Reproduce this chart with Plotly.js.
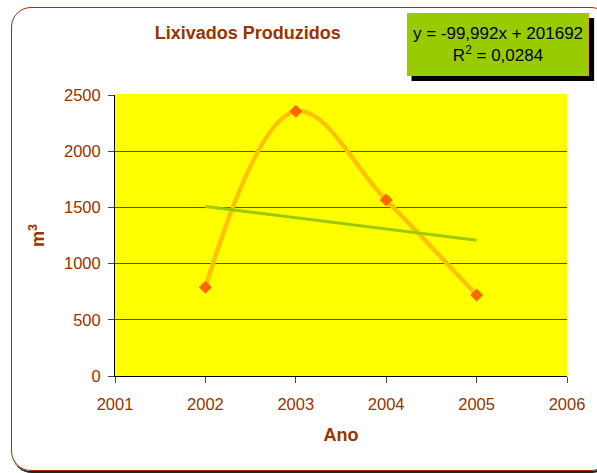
<!DOCTYPE html>
<html>
<head>
<meta charset="utf-8">
<script src="https://cdn.plot.ly/plotly-3.0.1.min.js"></script>
<style>
  html, body { margin: 0; padding: 0; background: #ffffff; }
  #wrap { position: relative; width: 597px; height: 473px; overflow: hidden; }
  #chart { position: absolute; left: 0; top: 0; width: 597px; height: 473px; }
  #frame { position: absolute; left: 11px; top: 7px; width: 600px; height: 464px;
           border: 1.5px solid #993300; border-radius: 20px; box-sizing: border-box;
           pointer-events: none; box-shadow: 1px 2px 0 #222; }
</style>
</head>
<body>
<div id="wrap">
  <div id="frame"></div>
  <div id="chart"></div>
</div>
<script>
// Data
const years = [2002, 2003, 2004, 2005];
const volumes = [790, 2355, 1565, 720];
const xTickVals = [2001, 2002, 2003, 2004, 2005, 2006];
const yTickVals = [0, 500, 1000, 1500, 2000, 2500];
const chartTitle = 'Lixivados Produzidos';
const xTitle = 'Ano';
const yTitle = 'm<sup>3</sup>';
const equationText = 'y = -99,992x + 201692<br>R<sup>2</sup> = 0,0284';

// Linear least-squares trend computed from the data
const n = years.length;
const mx = years.reduce((a, b) => a + b, 0) / n;
const my = volumes.reduce((a, b) => a + b, 0) / n;
let sxy = 0, sxx = 0;
for (let i = 0; i < n; i++) { sxy += (years[i] - mx) * (volumes[i] - my); sxx += (years[i] - mx) ** 2; }
const slope = sxy / sxx;
const intercept = my - slope * mx;
const trendX = [years[0], years[n - 1]];
const trendY = trendX.map(x => slope * x + intercept);

const font = 'Liberation Sans, Arial, sans-serif';
const brown = '#993300';

const traces = [
  {
    x: years, y: volumes, type: 'scatter', mode: 'lines',
    line: { color: '#FFC000', width: 4.5, shape: 'spline', smoothing: 1.1 },
    hoverinfo: 'skip', showlegend: false
  },
  {
    x: trendX, y: trendY, type: 'scatter', mode: 'lines',
    line: { color: '#99CC00', width: 3 },
    showlegend: false
  },
  {
    x: years, y: volumes, type: 'scatter', mode: 'markers',
    marker: { symbol: 'diamond', color: '#FF6600', size: 10 },
    showlegend: false
  }
];

const layout = {
  width: 597, height: 473,
  margin: { l: 115, r: 30, t: 95, b: 97 },
  paper_bgcolor: 'rgba(0,0,0,0)',
  plot_bgcolor: '#FFFF00',
  font: { family: font, color: brown, size: 16.5 },
  showlegend: false,
  title: {
    text: '<b>' + chartTitle + '</b>',
    font: { family: font, size: 18, color: brown },
    xref: 'container', x: 0.415, xanchor: 'center',
    yref: 'container', y: 1 - 33 / 473, yanchor: 'middle'
  },
  xaxis: {
    range: [2001, 2006], tickvals: xTickVals, ticktext: xTickVals.map(String),
    showgrid: false, zeroline: false,
    showline: true, linecolor: '#000000', linewidth: 1,
    ticks: 'outside', ticklen: 6, tickcolor: '#444444',
    ticklabelstandoff: 7,
    tickfont: { family: font, size: 16.5, color: brown },
    title: { text: '<b>' + xTitle + '</b>', font: { family: font, size: 18, color: brown }, standoff: 16 }
  },
  yaxis: {
    range: [0, 2500], tickvals: yTickVals, ticktext: yTickVals.map(String),
    showgrid: true, gridcolor: '#A83000', gridwidth: 1,
    zeroline: false,
    showline: true, linecolor: '#000000', linewidth: 1,
    ticks: 'outside', ticklen: 6, tickcolor: '#444444',
    ticklabelstandoff: 4,
    tickfont: { family: font, size: 16.5, color: brown },
    title: { text: '<b>' + yTitle + '</b>', font: { family: font, size: 18, color: brown }, standoff: 14 }
  },
  shapes: [
    { type: 'rect', xref: 'paper', yref: 'paper', x0: 0.656, x1: 1.060, y0: 1.050, y1: 1.274,
      fillcolor: '#000000', line: { width: 0 }, layer: 'above' },
    { type: 'line', xref: 'paper', yref: 'paper', x0: 0, x1: 1, y0: 1, y1: 1,
      line: { color: '#FFFF00', width: 2 }, layer: 'above' }
  ],
  annotations: [
    {
      xref: 'paper', yref: 'paper', x: 0.847, y: 1.178, xanchor: 'center', yanchor: 'middle',
      text: equationText, showarrow: false, align: 'center',
      font: { family: font, size: 17, color: '#000000' },
      bgcolor: '#99CC00', bordercolor: '#E8A000', borderwidth: 1,
      width: 178, height: 59, borderpad: 1
    }
  ]
};

Plotly.newPlot('chart', traces, layout, { displayModeBar: false, staticPlot: true });
</script>
</body>
</html>
